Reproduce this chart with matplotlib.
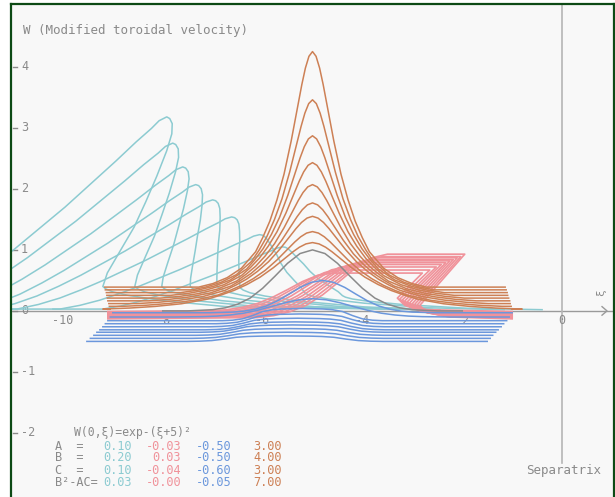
import numpy as np
import matplotlib.pyplot as plt

XMIN, XMAX = -11.04, 1.04
YMIN, YMAX = -3.05, 5.03

GREY = '#8a8a8a'
CYAN = '#8ccbd1'
PINK = '#f0929a'
BLUE = '#6b97dc'
BROWN = '#cd8055'

# W(0, xi), d = xi + 5
prof_d = [-3.0, -2.5, -2.0, -1.75, -1.5, -1.25, -1.0, -0.75, -0.5, -0.25, 0.0,
          0.25, 0.5, 0.75, 1.0, 1.25, 1.5, 1.75, 2.0, 2.5, 3.0]
prof_w = [0.0, 0.0, 0.02, 0.05, 0.11, 0.21, 0.37, 0.57, 0.78, 0.94, 1.0,
          0.94, 0.78, 0.57, 0.37, 0.21, 0.11, 0.05, 0.02, 0.0, 0.0]

# flat topped bump of the lower blue curves
flat_d = [-2.0, -1.75, -1.5, -1.25, -1.0, -0.75, -0.5, 0.0, 0.5, 0.75, 1.0, 1.25, 1.5, 1.75, 2.0]
flat_w = [0.0, 0.04, 0.15, 0.42, 0.75, 0.9, 0.96, 1.0, 0.96, 0.9, 0.75, 0.42, 0.15, 0.04, 0.0]

# peaked profile of the growing (brown) family, in units of its width
peak_d = [-4.0, -3.5, -3.0, -2.5, -2.0, -1.75, -1.5, -1.25, -1.0, -0.75, -0.5, -0.375,
          -0.25, -0.125, 0.0, 0.125, 0.25, 0.375, 0.5, 0.75, 1.0, 1.25, 1.5, 1.75,
          2.0, 2.5, 3.0, 3.5, 4.0]
peak_w = [0.0, 0.015, 0.04, 0.08, 0.15, 0.21, 0.28, 0.37, 0.48, 0.62, 0.78, 0.86,
          0.93, 0.98, 1.0, 0.98, 0.93, 0.86, 0.78, 0.62, 0.48, 0.37, 0.28, 0.21,
          0.15, 0.08, 0.04, 0.015, 0.0]

# front / back templates for the breaking cyan family
front_u = [0.0, 0.1, 0.2, 0.3, 0.4, 0.5, 0.6, 0.7, 0.8, 0.88, 0.94, 0.97, 1.0]
front_v = [0.0, 0.05, 0.12, 0.21, 0.31, 0.42, 0.53, 0.65, 0.77, 0.87, 0.94, 0.98, 1.0]
back_h = [1.0, 0.99, 0.96, 0.9, 0.8, 0.65, 0.5, 0.35, 0.2, 0.08, 0.0]
back_round = [0.0, 0.06, 0.11, 0.14, 0.14, 0.12, 0.08, 0.05, 0.02, 0.0, 0.0]
back_lean = [0.0, 0.0, 0.0, 0.03, 0.11, 0.25, 0.39, 0.55, 0.76, 0.93, 1.0]
tail_dx = [0.06, 0.2, 0.5, 1.2, 2.5]
tail_f = [0.9, 0.78, 0.64, 0.42, 0.17]

# cyan: A=0.10 B=0.20 C=0.10
cyan_peak_xi = [-7.92, -7.80, -7.60, -7.34, -7.00, -6.62, -6.06, -5.60]
cyan_peak_w = [3.18, 2.75, 2.36, 2.07, 1.82, 1.54, 1.25, 1.05]
cyan_front = [5.1, 4.85, 4.6, 4.4, 4.4, 4.3, 4.0, 3.6]
cyan_lean = [-1.28, -0.76, -0.42, -0.11, 0.09, 0.17, 0.9, 1.2]
cyan_bottom = [0.40, 0.40, 0.40, 0.40, 0.40, 0.38, 0.30, 0.25]

# pink: A=-0.03 B=0.03 C=-0.04
pink_foot = [-7.00, -6.90, -6.80, -6.70, -6.60, -6.50, -6.40, -6.30, -6.20, -6.10]
pink_ramp = [-4.60, -4.45, -4.30, -4.15, -4.00, -3.90, -3.80, -3.70, -3.60, -3.50]
pink_top = [0.62, 0.67, 0.72, 0.76, 0.79, 0.82, 0.84, 0.87, 0.89, 0.93]
pink_corner = [-2.80, -2.65, -2.52, -2.42, -2.33, -2.25, -2.18, -2.10, -2.03, -1.95]
pink_face_end = [-3.30, -3.25, -3.20, -3.15, -3.10, -3.05, -3.00, -2.95, -2.90, -2.85]
pink_base = [-0.01, -0.025, -0.04, -0.055, -0.07, -0.085, -0.10, -0.11, -0.12, -0.13]

# blue: A=-0.50 B=-0.50 C=-0.60 (first two curves keep the round bump)
blue_base = [-0.03, -0.10, -0.16, -0.21, -0.26, -0.31, -0.35, -0.40, -0.45, -0.50]
blue_amp = [0.53, 0.30, 0.20, 0.16, 0.14, 0.13, 0.12, 0.11, 0.10, 0.09]
blue_center = [-4.80, -5.00, -5.20, -5.25, -5.30, -5.35, -5.40, -5.45, -5.50, -5.55]
blue_width = [0.90, 1.10, 0.80, 0.84, 0.87, 0.90, 0.92, 0.94, 0.96, 0.98]
blue_left = [-9.00, -9.05, -9.10, -9.15, -9.20, -9.26, -9.32, -9.38, -9.45, -9.52]
blue_right = [-1.00, -1.06, -1.11, -1.17, -1.22, -1.28, -1.33, -1.39, -1.44, -1.50]

# brown: A=3.00 B=4.00 C=3.00
brown_peak = [1.12, 1.30, 1.55, 1.77, 2.07, 2.43, 2.87, 3.46, 4.25]
brown_base = [0.03, 0.075, 0.12, 0.165, 0.21, 0.255, 0.30, 0.345, 0.39]
brown_width = [1.05, 0.95, 0.88, 0.82, 0.76, 0.71, 0.66, 0.61, 0.57]
brown_left = [-9.06, -9.07, -9.08, -9.10, -9.11, -9.12, -9.13, -9.15, -9.16]
brown_right = [-1.00, -1.02, -1.04, -1.05, -1.07, -1.09, -1.10, -1.12, -1.14]

yticks = [4, 3, 2, 1, 0, -1, -2]
xticks = [-10, -8, -6, -4, -2, 0]
table_rows = ['A  =', 'B  =', 'C  =', 'B²-AC=']
table_vals = [['0.10', '-0.03', '-0.50', '3.00'],
              ['0.20', '0.03', '-0.50', '4.00'],
              ['0.10', '-0.04', '-0.60', '3.00'],
              ['0.03', '-0.00', '-0.05', '7.00']]
table_cols = [CYAN, PINK, BLUE, BROWN]


def breaking_curve(xp, wp, front, lean, wb):
    xs, ys = [xp - front - 1.0], [0.03]
    for u, v in zip(front_u, front_v):
        xs.append(xp - front * (1 - u))
        ys.append(0.03 + (wp - 0.03) * v)
    for h, r, s in zip(back_h, back_round, back_lean):
        xs.append(xp + r + lean * s)
        ys.append(wb + (wp - wb) * h)
    xb = xp + lean
    for dx, f in zip(tail_dx, tail_f):
        xs.append(xb + dx)
        ys.append(wb * f)
    xs.append(max(xb + 4.0, -2.6))
    ys.append(0.02)
    return xs, ys


fig = plt.figure(figsize=(6.15, 4.97), dpi=100)
ax = fig.add_axes([11 / 615, 0, 603 / 615, 493 / 497])
ax.set_facecolor('#f8f8f8')
ax.set_xlim(XMIN, XMAX)
ax.set_ylim(YMIN, YMAX)
ax.set_xticks([])
ax.set_yticks([])
for side in ['left', 'top', 'right']:
    ax.spines[side].set_color('#0d4a15')
    ax.spines[side].set_linewidth(1.6)
ax.spines['bottom'].set_visible(False)

mono = 'DejaVu Sans Mono'

# axes drawn like the original program
ax.plot([XMIN, XMAX], [0, 0], color='#9a9a9a', lw=1.0, zorder=1)
ax.plot([0.80, 0.90, 0.80], [0.07, 0.0, -0.07], color='#9a9a9a', lw=1.0, zorder=1)
ax.plot([0, 0], [YMAX, -2.49], color='#b5b5b5', lw=1.2, zorder=1)
for t in yticks:
    ax.plot([XMIN + 0.05, XMIN + 0.12], [t, t], color=GREY, lw=1.0)
    ax.text(-10.84, t, str(t), family=mono, fontsize=8.5, color=GREY,
            ha='left', va='center', zorder=1)
for t in xticks:
    ax.text(t, -0.15, str(t), family=mono, fontsize=8.5, color=GREY,
            ha='center', va='center', zorder=1)
ax.text(0.78, 0.3, 'ξ', family=mono, fontsize=8, color=GREY, rotation=90,
        ha='center', va='center')
ax.text(-10.8, 4.6, 'W (Modified toroidal velocity)', family=mono, fontsize=9,
        color=GREY, ha='left', va='center')
ax.text(-0.73, -2.62, 'Separatrix', family=mono, fontsize=9, color=GREY,
        ha='left', va='center')

# cyan family
for xp, wp, fr, le, wb in zip(cyan_peak_xi, cyan_peak_w, cyan_front, cyan_lean, cyan_bottom):
    xs, ys = breaking_curve(xp, wp, fr, le, wb)
    ax.plot(xs, ys, color=CYAN, lw=1.1, zorder=2, solid_joinstyle='round')

# pink family
for ft, rp, tw, xc, xe, b in zip(pink_foot, pink_ramp, pink_top, pink_corner,
                                 pink_face_end, pink_base):
    xs, ys = [-9.1], [b]
    for d, v in zip(prof_d[2:11], prof_w[2:11]):
        xs.append(ft + (rp - ft) * (d + 2.0) / 2.0)
        ys.append(b + (tw - b) * v)
    xs += [xc, xe, xe + 0.15, xe + 0.6, -1.0]
    ys += [tw, b + 0.22, b + 0.1, b + 0.03, b]
    ax.plot(xs, ys, color=PINK, lw=1.2, zorder=3, solid_joinstyle='round')

# brown family
for pk, b, w, xl, xr in zip(brown_peak, brown_base, brown_width, brown_left, brown_right):
    xs = [xl] + [-5.0 + w * d for d in peak_d] + [xr]
    ys = [b] + [b + (pk - b) * v for v in peak_w] + [b]
    ax.plot(xs, ys, color=BROWN, lw=1.1, zorder=4)

# blue family
for k, (b, a, c, w, xl, xr) in enumerate(zip(blue_base, blue_amp, blue_center,
                                             blue_width, blue_left, blue_right)):
    dd, vv = (prof_d, prof_w) if k < 2 else (flat_d, flat_w)
    xs = [xl] + [c + w * d for d in dd] + [xr]
    ys = [b] + [b + a * v for v in vv] + [b]
    ax.plot(xs, ys, color=BLUE, lw=1.1, zorder=5)

# initial condition
ax.plot([-5.0 + d for d in prof_d], prof_w, color=GREY, lw=1.1, zorder=6)

# parameter table
ax.text(-9.77, -2.0, 'W(0,ξ)=exp-(ξ+5)²', family=mono, fontsize=8.3, color=GREY,
        ha='left', va='center')
row_y = [-2.22, -2.41, -2.61, -2.82]
col_x = [-8.63, -7.63, -6.63, -5.62]
for r, lab in enumerate(table_rows):
    ax.text(-10.15, row_y[r], lab, family=mono, fontsize=8.6, color=GREY,
            ha='left', va='center')
    for c, val in enumerate(table_vals[r]):
        ax.text(col_x[c], row_y[r], val, family=mono, fontsize=8.6,
                color=table_cols[c], ha='right', va='center')

fig.savefig('out.png', dpi=100, facecolor='white')
